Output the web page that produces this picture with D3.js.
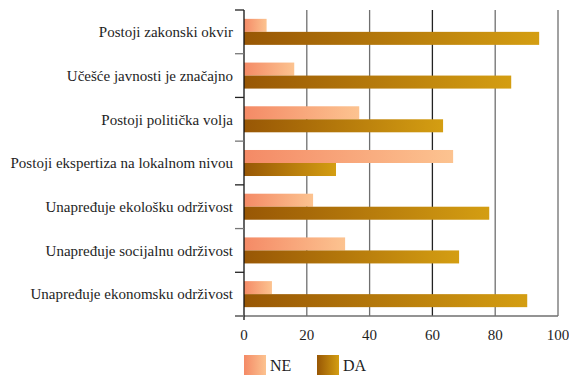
<!DOCTYPE html>
<html>
<head>
<meta charset="utf-8">
<script src="https://cdn.jsdelivr.net/npm/d3@7"></script>
<style>
  body { margin: 0; background: #fff; }
</style>
</head>
<body>
<div id="chart"></div>
<script>
// Podaci
const categories = [
    "Postoji zakonski okvir",
    "Učešće javnosti je značajno",
    "Postoji politička volja",
    "Postoji ekspertiza na lokalnom nivou",
    "Unapređuje ekološku održivost",
    "Unapređuje socijalnu održivost",
    "Unapređuje ekonomsku održivost"
];
const seriesNames = ["NE", "DA"];
const valuesNE = [7.2, 16, 36.7, 66.6, 22, 32.2, 8.9];
const valuesDA = [94, 85.1, 63.4, 29.3, 78.1, 68.5, 90.2];
const xTicks = [0, 20, 40, 60, 80, 100];

const W = 569, H = 375;
const margin = {top: 10, right: 11, bottom: 59, left: 244};
const width = W - margin.left - margin.right;
const height = H - margin.top - margin.bottom;
const FONT = "Liberation Serif";

const svg = d3.select("#chart").append("svg")
    .attr("width", W)
    .attr("height", H)
    .style("font-family", FONT);

// Gradijenti
const defs = svg.append("defs");
const grads = {
    NE: ["#f48a66", "#fcc390"],
    DA: ["#985705", "#d49e12"]
};
Object.entries(grads).forEach(([k, c]) => {
    const lg = defs.append("linearGradient").attr("id", "grad-" + k)
        .attr("x1", "0%").attr("x2", "100%").attr("y1", "0%").attr("y2", "0%");
    lg.append("stop").attr("offset", "0%").attr("stop-color", c[0]);
    lg.append("stop").attr("offset", "100%").attr("stop-color", c[1]);
});

const g = svg.append("g")
    .attr("transform", `translate(${margin.left},${margin.top})`);

// Skale
const x = d3.scaleLinear().domain([0, 100]).range([0, width]);
const y = d3.scaleBand().domain(categories).range([0, height]);
const inner = d3.scaleBand().domain(seriesNames).range([0, y.bandwidth()]).paddingOuter(0.68);

// Mreža
g.selectAll(".grid")
    .data(xTicks.slice(1))
    .enter().append("line")
    .attr("x1", d => x(d)).attr("x2", d => x(d))
    .attr("y1", 0).attr("y2", height)
    .attr("stroke", d => d === 60 ? "#222" : "#6f6f6f")
    .attr("stroke-width", 1.3);

// Trake
const rows = categories.map((c, i) => ({cat: c, NE: valuesNE[i], DA: valuesDA[i]}));
seriesNames.forEach(s => {
    g.selectAll(".bar-" + s)
        .data(rows)
        .enter().append("rect")
        .attr("x", x(0))
        .attr("y", d => y(d.cat) + inner(s))
        .attr("width", d => x(d[s]) - x(0))
        .attr("height", inner.bandwidth())
        .attr("fill", `url(#grad-${s})`);
});

// Osa X
g.append("line")
    .attr("x1", -9).attr("x2", width)
    .attr("y1", height).attr("y2", height)
    .attr("stroke", "#6f6f6f").attr("stroke-width", 1.3);

g.selectAll(".xtick")
    .data(xTicks)
    .enter().append("text")
    .attr("x", d => x(d))
    .attr("y", height + 24)
    .attr("text-anchor", "middle")
    .attr("fill", "#1e1e1e")
    .style("font-size", "15px")
    .text(d => d);

// Osa Y
g.append("line")
    .attr("x1", 0).attr("x2", 0)
    .attr("y1", 0).attr("y2", height + 4)
    .attr("stroke", "#111").attr("stroke-width", 1.3);

const yEdges = categories.map(c => y(c)).concat([height]);
g.selectAll(".ytick")
    .data(yEdges)
    .enter().append("line")
    .attr("x1", -9).attr("x2", 0)
    .attr("y1", d => d).attr("y2", d => d)
    .attr("stroke", (d, i) => i % 2 ? "#777" : "#222")
    .attr("stroke-width", 1.3);

g.selectAll(".ylabel")
    .data(categories)
    .enter().append("text")
    .attr("x", -11)
    .attr("y", d => y(d) + y.bandwidth() / 2)
    .attr("dy", "0.35em")
    .attr("text-anchor", "end")
    .attr("fill", "#1e1e1e")
    .style("font-size", "15px")
    .text(d => d);

// Legenda
const legend = svg.append("g").attr("transform", `translate(${margin.left}, 355)`);
const lx = [0, 73];
seriesNames.forEach((s, i) => {
    legend.append("rect")
        .attr("x", lx[i]).attr("y", 0)
        .attr("width", 22).attr("height", 20)
        .attr("fill", `url(#grad-${s})`);
    legend.append("text")
        .attr("x", lx[i] + 26).attr("y", 16)
        .attr("fill", "#1e1e1e")
        .style("font-size", "16px")
        .text(s);
});
</script>
</body>
</html>
